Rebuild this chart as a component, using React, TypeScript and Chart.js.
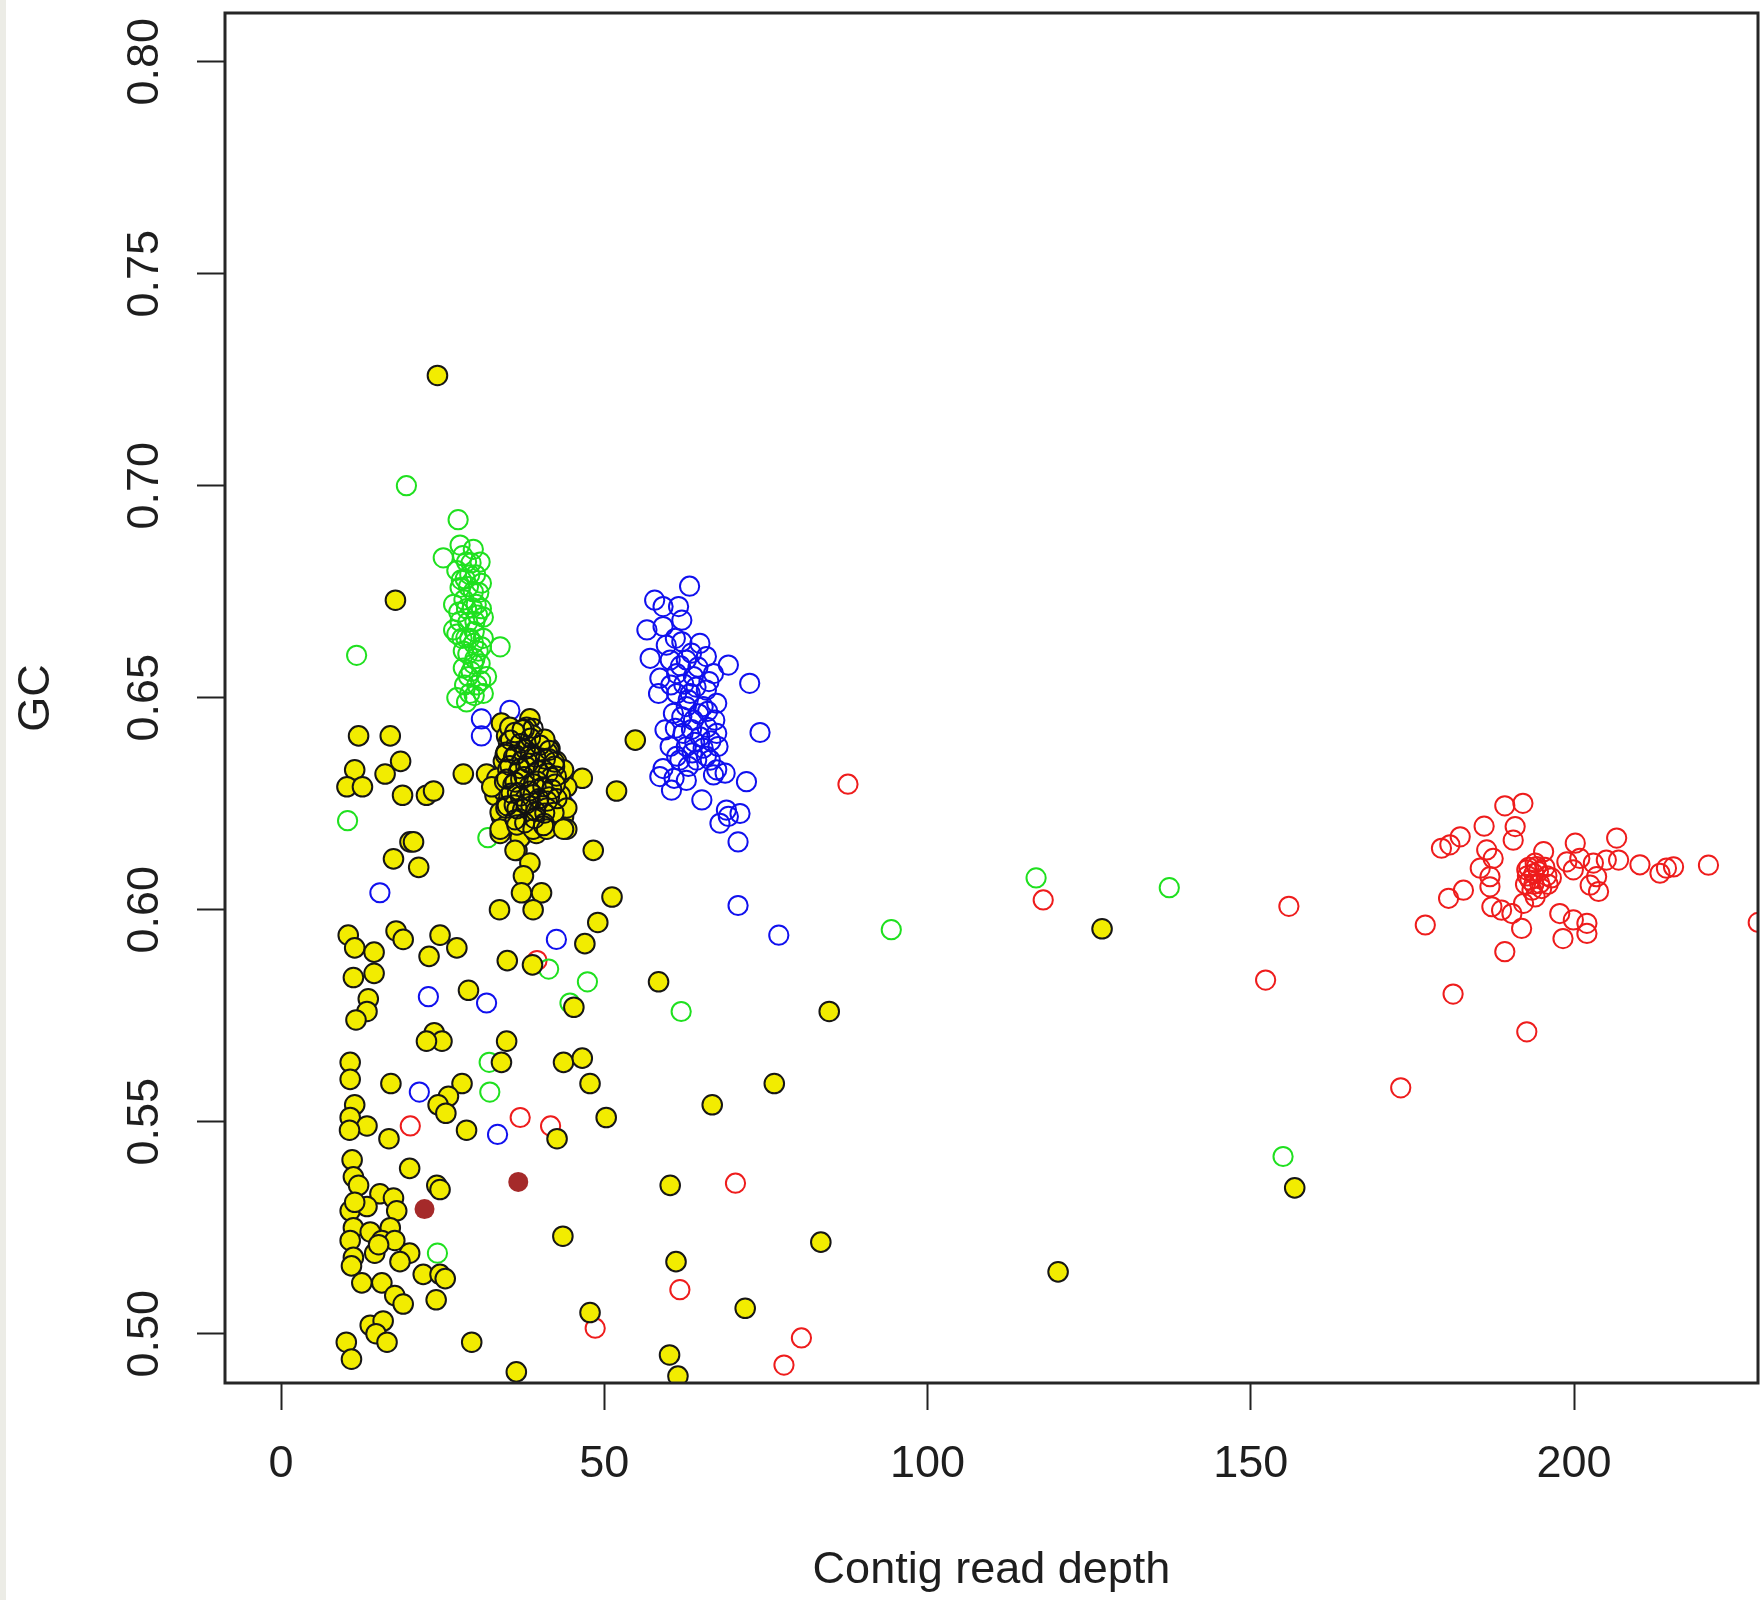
import { useEffect, useRef } from 'react';
import Chart from 'chart.js/auto';

const xTicks = [0, 50, 100, 150, 200];
const yTicks = [0.5, 0.55, 0.6, 0.65, 0.7, 0.75, 0.8];
const xLabel = 'Contig read depth';
const yLabel = 'GC';

const yellowPoints: [number, number][] = [
  [24.2, 0.726], [17.7, 0.673],
  [12.0, 0.641], [16.9, 0.641], [11.4, 0.633], [16.1, 0.632], [18.5, 0.635], [10.2, 0.629], [12.6, 0.629],
  [18.8, 0.627], [22.5, 0.627], [23.6, 0.628], [28.2, 0.632],
  [34.1, 0.644], [38.5, 0.645], [38.0, 0.643], [41.6, 0.638], [54.8, 0.640], [31.8, 0.632], [46.6, 0.631],
  [51.9, 0.628], [33.1, 0.627], [44.2, 0.629], [34.1, 0.622], [43.7, 0.622], [44.2, 0.619], [33.9, 0.618],
  [36.5, 0.614], [38.5, 0.611], [37.5, 0.608], [48.3, 0.614],
  [34.9, 0.641], [37.0, 0.642], [39.5, 0.640], [35.9, 0.638], [38.5, 0.638], [40.6, 0.637], [42.6, 0.635],
  [34.4, 0.635], [37.0, 0.635], [39.5, 0.635], [41.6, 0.633], [43.2, 0.632], [33.4, 0.631], [35.4, 0.631],
  [38.0, 0.631], [40.1, 0.631], [42.1, 0.630], [34.4, 0.628], [36.5, 0.628], [39.0, 0.628], [41.1, 0.627],
  [43.2, 0.627], [34.9, 0.625], [37.0, 0.625], [39.5, 0.625], [41.6, 0.624], [33.9, 0.623], [35.9, 0.622],
  [38.0, 0.623], [40.6, 0.622], [42.6, 0.623], [34.9, 0.620], [37.5, 0.620], [40.1, 0.620], [42.1, 0.620],
  [37.0, 0.617], [39.5, 0.618], [35.4, 0.643], [43.7, 0.633], [32.6, 0.629], [44.2, 0.624],
  [36.2, 0.633], [38.8, 0.633], [37.6, 0.629], [39.8, 0.629], [36.0, 0.626], [38.4, 0.626], [40.8, 0.626],
  [37.2, 0.637], [39.7, 0.631], [35.7, 0.634],
  [35.2, 0.6395], [36.4, 0.6388], [37.9, 0.6398], [39.1, 0.6379], [40.3, 0.6392], [41.2, 0.6371],
  [34.7, 0.6366], [36.0, 0.6360], [37.3, 0.6352], [38.6, 0.6364], [39.9, 0.6348], [41.4, 0.6356], [42.3, 0.6338],
  [35.1, 0.6331], [36.7, 0.6324], [37.9, 0.6338], [39.2, 0.6321], [40.6, 0.6330], [41.8, 0.6312],
  [34.6, 0.6302], [35.9, 0.6295], [37.1, 0.6308], [38.4, 0.6291], [39.6, 0.6303], [40.9, 0.6287], [42.4, 0.6296],
  [35.3, 0.6268], [36.6, 0.6276], [37.8, 0.6262], [39.0, 0.6271], [40.2, 0.6258], [41.5, 0.6266],
  [34.8, 0.6240], [36.1, 0.6247], [37.4, 0.6236], [38.7, 0.6244], [39.9, 0.6232], [41.1, 0.6240], [42.2, 0.6229],
  [36.9, 0.6214], [38.2, 0.6207], [39.4, 0.6218], [40.7, 0.6203],
  [38.9, 0.6412], [37.6, 0.6425], [36.2, 0.6418], [40.8, 0.6402],
  [33.9, 0.619], [36.5, 0.620], [39.0, 0.619], [41.1, 0.619], [43.7, 0.619],
  [19.95, 0.616], [20.5, 0.616], [17.4, 0.612], [21.3, 0.610], [36.2, 0.614], [37.2, 0.604], [40.3, 0.604],
  [39.0, 0.600], [33.8, 0.600], [51.2, 0.603], [49.0, 0.597], [47.0, 0.592], [35.0, 0.588], [38.9, 0.587],
  [45.3, 0.577], [58.4, 0.583], [10.4, 0.594], [11.4, 0.591], [14.4, 0.590], [11.2, 0.584], [14.4, 0.585],
  [17.8, 0.595], [18.9, 0.593], [24.6, 0.594], [27.2, 0.591], [22.9, 0.589], [13.5, 0.579], [13.3, 0.576],
  [11.6, 0.574], [29.0, 0.581], [23.7, 0.571], [24.9, 0.569], [22.5, 0.569], [34.9, 0.569], [34.1, 0.564],
  [10.7, 0.564], [10.7, 0.560], [17.0, 0.559], [28.0, 0.559], [25.9, 0.556], [24.3, 0.554], [25.5, 0.552],
  [28.7, 0.548], [43.7, 0.564], [46.6, 0.565], [47.8, 0.559], [50.3, 0.551], [42.7, 0.546], [11.4, 0.554],
  [10.7, 0.551], [13.3, 0.549], [10.6, 0.548], [16.7, 0.546], [11.0, 0.541], [19.9, 0.539], [11.2, 0.537],
  [12.0, 0.535], [15.3, 0.533], [17.4, 0.532], [24.1, 0.535], [24.6, 0.534], [10.7, 0.529], [13.3, 0.530],
  [17.9, 0.529], [11.2, 0.525], [13.8, 0.524], [16.9, 0.525], [10.7, 0.522], [15.6, 0.522], [17.6, 0.522],
  [11.2, 0.518], [14.5, 0.519], [19.9, 0.519], [18.4, 0.517], [10.9, 0.516], [12.5, 0.512], [15.6, 0.512],
  [17.6, 0.509], [18.9, 0.507], [22.0, 0.514], [24.6, 0.514], [25.4, 0.513], [24.0, 0.508], [13.8, 0.502],
  [15.8, 0.503], [14.7, 0.500], [16.4, 0.498], [10.1, 0.498], [10.9, 0.494], [29.5, 0.498], [36.4, 0.491],
  [11.4, 0.531], [15.1, 0.521],
  [60.2, 0.535], [66.7, 0.554], [76.3, 0.559], [43.6, 0.523], [61.1, 0.517], [47.8, 0.505], [71.8, 0.506],
  [60.1, 0.495], [61.4, 0.490], [127.0, 0.5955], [84.8, 0.576], [156.8, 0.5344], [83.5, 0.5216], [120.2, 0.5146],
];

const blackPoints: [number, number][] = [
  [35.5, 0.6400], [37.0, 0.6392], [38.6, 0.6405], [40.1, 0.6388], [41.5, 0.6376],
  [34.8, 0.6372], [36.3, 0.6365], [37.8, 0.6378], [39.4, 0.6360], [40.9, 0.6355], [42.3, 0.6348],
  [35.4, 0.6340], [36.9, 0.6333], [38.3, 0.6346], [39.8, 0.6328], [41.3, 0.6322], [42.6, 0.6315],
  [34.9, 0.6308], [36.2, 0.6301], [37.6, 0.6314], [39.1, 0.6297], [40.5, 0.6290], [41.9, 0.6284],
  [35.6, 0.6275], [37.0, 0.6268], [38.5, 0.6280], [39.9, 0.6262], [41.2, 0.6256], [42.7, 0.6262],
  [35.0, 0.6245], [36.5, 0.6238], [38.0, 0.6250], [39.4, 0.6232], [40.8, 0.6228],
  [36.2, 0.6212], [37.7, 0.6205], [39.2, 0.6215], [40.6, 0.6198],
  [37.3, 0.6425], [39.0, 0.6428],
];

const greenPoints: [number, number][] = [
  [19.4, 0.700], [27.4, 0.692], [25.1, 0.683],
  [27.7, 0.686], [29.75, 0.685], [30.8, 0.682], [27.2, 0.680], [29.2, 0.679], [31.0, 0.677], [27.7, 0.676],
  [29.75, 0.675], [26.7, 0.672], [28.7, 0.671], [31.0, 0.671], [27.7, 0.668], [30.0, 0.668], [27.2, 0.665],
  [29.2, 0.664], [31.3, 0.664], [33.9, 0.662], [28.2, 0.661], [30.5, 0.661], [29.75, 0.658], [28.2, 0.657],
  [31.8, 0.655], [30.3, 0.653], [27.2, 0.650], [29.2, 0.651], [31.3, 0.651], [28.7, 0.649], [26.7, 0.666],
  [28.7, 0.682], [31.3, 0.669], [28.5, 0.678], [30.2, 0.672], [28.0, 0.664], [30.8, 0.658], [29.0, 0.655],
  [28.1, 0.6835], [29.4, 0.6818], [30.1, 0.6790], [27.9, 0.6778], [29.0, 0.6762], [30.6, 0.6748], [28.3, 0.6731],
  [29.6, 0.6712], [30.4, 0.6695], [27.5, 0.6702], [28.9, 0.6678], [29.9, 0.6656], [28.6, 0.6641], [29.8, 0.6628],
  [31.0, 0.6620], [28.9, 0.6603], [30.0, 0.6592], [29.4, 0.6562], [30.9, 0.6540], [28.4, 0.6530], [29.9, 0.6505],
  [11.7, 0.660], [10.3, 0.621], [32.0, 0.617], [41.4, 0.586], [47.4, 0.583], [44.7, 0.578], [61.9, 0.576],
  [32.2, 0.564], [32.3, 0.557], [24.2, 0.519], [116.8, 0.6075], [137.4, 0.6052], [94.4, 0.5953], [155.0, 0.5418],
];

const bluePoints: [number, number][] = [
  [63.2, 0.6763], [57.8, 0.6730], [59.1, 0.6715], [61.5, 0.6715], [62.0, 0.6683], [56.6, 0.6660], [59.1, 0.6668],
  [59.6, 0.6624], [62.0, 0.6632], [64.8, 0.6628], [57.1, 0.6593], [60.2, 0.6589], [62.7, 0.6589], [65.8, 0.6597],
  [69.2, 0.6577], [72.5, 0.6534], [58.6, 0.6546], [61.2, 0.6557], [63.8, 0.6550], [66.9, 0.6557], [58.4, 0.6510],
  [61.2, 0.6510], [63.3, 0.6510], [65.8, 0.6518], [62.7, 0.6479], [65.3, 0.6479], [67.4, 0.6487], [60.7, 0.6463],
  [63.8, 0.6447], [67.1, 0.6447], [59.4, 0.6424], [62.2, 0.6416], [64.8, 0.6408], [67.4, 0.6416], [74.1, 0.6418],
  [60.2, 0.6385], [62.7, 0.6385], [65.3, 0.6381], [67.6, 0.6385], [61.7, 0.6353], [59.1, 0.6333], [67.4, 0.6330],
  [68.7, 0.6322], [72.0, 0.6302], [60.4, 0.6282], [65.1, 0.6259], [68.9, 0.6235], [71.0, 0.6227], [67.9, 0.6204],
  [69.2, 0.6220], [70.7, 0.6160], [58.6, 0.6314], [64.3, 0.6353], [66.4, 0.6353],
  [61.0, 0.6640], [63.5, 0.6605], [61.8, 0.6575], [64.5, 0.6572], [66.2, 0.6538], [62.3, 0.6532], [64.2, 0.6525],
  [60.3, 0.6530], [63.0, 0.6495], [64.6, 0.6462], [66.0, 0.6468], [62.0, 0.6455], [65.9, 0.6430], [63.5, 0.6425],
  [61.0, 0.6428], [64.0, 0.6395], [66.5, 0.6398], [63.6, 0.6370], [61.2, 0.6362], [65.8, 0.6362], [63.0, 0.6338],
  [60.8, 0.6310], [62.7, 0.6305], [66.9, 0.6318],
  [31.0, 0.645], [31.0, 0.641], [35.4, 0.647], [43.7, 0.625], [15.3, 0.604], [70.7, 0.601], [77.0, 0.594],
  [42.6, 0.593], [22.8, 0.5795], [31.8, 0.578], [21.4, 0.557], [33.5, 0.547],
];

const redPoints: [number, number][] = [
  [87.7, 0.6296], [117.9, 0.6023], [155.9, 0.6008], [152.3, 0.5834], [173.2, 0.558], [80.5, 0.499],
  [77.8, 0.4926], [70.3, 0.5355], [61.7, 0.5104], [48.6, 0.5013], [37.0, 0.551], [41.7, 0.549], [20.0, 0.549],
  [39.6, 0.588],
  [189.3, 0.6245], [192.1, 0.6251], [186.1, 0.6197], [190.9, 0.6196], [190.6, 0.6164], [179.5, 0.6145],
  [180.8, 0.6153], [182.4, 0.6172], [186.5, 0.6141], [187.5, 0.6121], [185.5, 0.6098], [187.0, 0.6078],
  [195.3, 0.6137], [200.2, 0.6157], [206.6, 0.6169], [192.7, 0.6094], [194.2, 0.6102], [193.2, 0.6070],
  [194.7, 0.6062], [193.5, 0.6046], [198.9, 0.6113], [200.9, 0.6121], [199.9, 0.6094], [203.0, 0.6110],
  [205.0, 0.6117], [206.9, 0.6117], [203.5, 0.6078], [202.5, 0.6058], [203.8, 0.6043], [210.2, 0.6106],
  [213.3, 0.6086], [215.4, 0.6101], [214.3, 0.6098], [220.8, 0.6105], [182.9, 0.6046], [180.6, 0.6027],
  [187.0, 0.6054], [187.3, 0.6007], [188.8, 0.5999], [190.4, 0.5991], [192.2, 0.6015], [191.9, 0.5956],
  [197.8, 0.5991], [199.9, 0.5976], [202.0, 0.5968], [198.3, 0.5932], [202.0, 0.5944], [177.0, 0.5964],
  [189.3, 0.5901], [181.3, 0.5801], [192.7, 0.5712],
  [193.8, 0.6085], [195.8, 0.6080], [194.0, 0.6030], [196.0, 0.6060], [192.5, 0.6060],
  [193.0, 0.6100], [194.5, 0.6090], [195.5, 0.6100], [193.8, 0.6060], [195.0, 0.6050], [196.5, 0.6075],
  [192.8, 0.6080], [194.0, 0.6110], [228.5, 0.597],
];

const brownPoints: [number, number][] = [
  [36.7, 0.5358], [22.2, 0.5294],
];

const FONT = "'Liberation Sans', Arial, Helvetica, sans-serif";
const TEXT = '#1e1e1e';

export default function App() {
  const ref = useRef<HTMLCanvasElement>(null);

  useEffect(() => {
    const canvas = ref.current;
    if (!canvas) return;
    const toXY = (arr: [number, number][]) => arr.map(([x, y]) => ({ x, y }));

    const framePlugin = {
      id: 'frame',
      beforeDraw(chart: any) {
        const { ctx, width, height } = chart;
        ctx.save();
        ctx.fillStyle = '#ffffff';
        ctx.fillRect(0, 0, width, height);
        ctx.fillStyle = '#ececE6';
        ctx.fillRect(0, 0, 6, height);
        ctx.restore();
      },
      afterDatasetsDraw(chart: any) {
        const { ctx, chartArea: a } = chart;
        ctx.save();
        ctx.strokeStyle = '#262626';
        ctx.lineWidth = 3;
        ctx.strokeRect(a.left, a.top, a.right - a.left, a.bottom - a.top);
        ctx.restore();
      },
    };

    const open = (data: [number, number][], color: string, order: number) => ({
      data: toXY(data),
      pointRadius: 9.6,
      pointHoverRadius: 9.6,
      pointBorderWidth: 2,
      pointBackgroundColor: 'rgba(0,0,0,0)',
      pointBorderColor: color,
      order,
      clip: 0,
    });

    const chart = new Chart(canvas, {
      type: 'scatter',
      data: {
        datasets: [
          {
            data: toXY(brownPoints),
            pointRadius: 10,
            pointHoverRadius: 10,
            pointBorderWidth: 0,
            pointBackgroundColor: '#a52a2a',
            pointBorderColor: '#a52a2a',
            order: 0,
            clip: 0,
          },
          open(blackPoints, '#111111', 1),
          {
            data: toXY(yellowPoints),
            pointRadius: 9.8,
            pointHoverRadius: 9.8,
            pointBorderWidth: 2,
            pointBackgroundColor: '#f2ec00',
            pointBorderColor: '#161616',
            order: 2,
            clip: 0,
          },
          open(greenPoints, '#1fe01f', 3),
          open(bluePoints, '#1010ee', 4),
          open(redPoints, '#ee1c1c', 5),
        ] as any,
      },
      options: {
        responsive: false,
        animation: false,
        events: [],
        layout: { autoPadding: false, padding: { top: 13, right: 4, left: 0, bottom: 0 } },
        plugins: { legend: { display: false }, tooltip: { enabled: false } },
        scales: {
          x: {
            type: 'linear',
            min: -8.662,
            max: 228.46,
            afterBuildTicks: (s: any) => { s.ticks = xTicks.map((v) => ({ value: v })); },
            afterFit: (s: any) => { s.height = 217; s.paddingLeft = 0; s.paddingRight = 0; },
            grid: { display: true, drawOnChartArea: false, drawTicks: true, tickLength: 27, tickWidth: 2, tickColor: '#222', color: '#222' },
            border: { display: false },
            ticks: {
              autoSkip: false, maxRotation: 0, minRotation: 0, padding: 28, color: TEXT,
              font: { family: FONT, size: 45 },
              callback: (v: any) => String(v),
            },
            title: { display: true, text: xLabel, color: TEXT, font: { family: FONT, size: 45 }, padding: { top: 0, bottom: 2 } },
          },
          y: {
            type: 'linear',
            min: 0.48838,
            max: 0.81149,
            afterBuildTicks: (s: any) => { s.ticks = yTicks.map((v) => ({ value: v })); },
            afterFit: (s: any) => { s.width = 225; s.paddingTop = 0; s.paddingBottom = 0; },
            grid: { display: true, drawOnChartArea: false, drawTicks: true, tickLength: 28, tickWidth: 2, tickColor: '#222', color: '#222' },
            border: { display: false },
            ticks: {
              autoSkip: false, minRotation: 90, maxRotation: 90, crossAlign: 'center', padding: 8, color: TEXT,
              font: { family: FONT, size: 45 },
              callback: (v: any) => Number(v).toFixed(2),
            },
            title: { display: true, text: yLabel, color: TEXT, font: { family: FONT, size: 45 }, padding: { top: 10, bottom: 0 } },
          },
        },
      } as any,
      plugins: [framePlugin],
    });

    return () => chart.destroy();
  }, []);

  return (
    <div style={{ position: 'absolute', left: 0, top: 0, width: 1762, height: 1600 }}>
      <canvas ref={ref} width={1762} height={1600} style={{ display: 'block', width: 1762, height: 1600 }} />
    </div>
  );
}
